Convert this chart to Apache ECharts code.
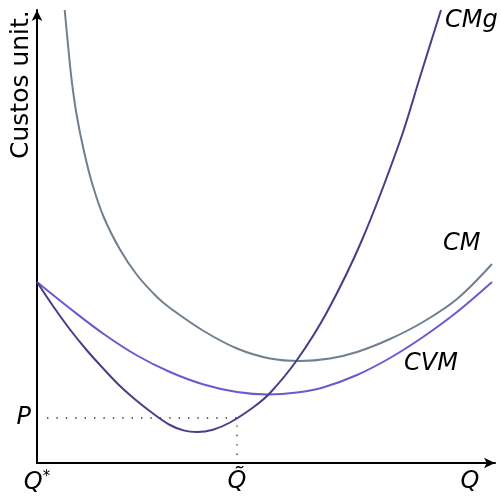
<!DOCTYPE html>
<html><head><meta charset="utf-8">
<script src="https://cdn.jsdelivr.net/npm/echarts@6/dist/echarts.min.js"></script>
<style>html,body{margin:0;padding:0;background:#fff}#c{width:501px;height:498px}</style>
</head><body><div id="c"></div>
<script>
// Read-off values (quantity Q, unit cost) in arbitrary axis units
const cmgQ = [0, 16.7, 33, 50, 66.7, 83, 100, 116.7, 133, 146.5, 160, 176, 193, 216.7, 233, 260, 290, 325, 363, 383, 404];
const cmgC = [181, 156, 133.5, 112.5, 94, 77, 62, 49, 38, 32.6, 31, 33.3, 40.5, 56, 70, 103, 151, 223, 322, 386, 453];
const cmQ  = [27.7, 31.5, 35, 40, 46.7, 55, 66.7, 83, 100, 120, 133, 166.7, 200, 233, 263, 293, 320, 353, 386, 420, 455];
const cmC  = [453, 413, 380, 346, 313, 280, 246, 213.5, 188, 166, 155, 132, 114.5, 104.5, 102, 104.5, 111, 124, 141, 164, 199];
const cvmQ = [0, 33, 66.7, 100, 133, 166.7, 200, 231, 260, 286, 320, 353, 386, 420, 455];
const cvmC = [181, 154.5, 129, 107.5, 91, 78.5, 71, 68.5, 70.5, 75.5, 88, 105, 126, 151, 181];
const priceP = 45;
const qTilde = 200;
const guideStartQ = 10;
const xLabelValues = [0, qTilde, 433];
const xLabelTexts = ['Q*', 'Q\u0303', 'Q'];
const yLabelValues = [priceP];
const yLabelTexts = ['P'];
const seriesNames = ['CMg', 'CM', 'CVM'];
const yAxisTitle = 'Custos unit.';

const zip = (a, b) => a.map((v, i) => [v, b[i]]);
const chart = echarts.init(document.getElementById('c'));
const FS = 24;
const SM = 0.35;
const italicFont = 'italic ' + FS + 'px "DejaVu Sans"';
chart.setOption({
  animation: false,
  grid: {left: 37, right: 6, top: 10, bottom: 35},
  xAxis: {
    type: 'value', min: 0, max: 458,
    axisLine: {lineStyle: {color: '#000', width: 2}, symbol: ['none', 'arrow'], symbolSize: [8, 11]},
    axisTick: {show: false}, splitLine: {show: false},
    axisLabel: {customValues: xLabelValues, margin: 7, fontFamily: 'DejaVu Sans', fontStyle: 'italic', fontSize: FS, color: '#000',
      formatter: v => {
        const i = xLabelValues.findIndex(x => Math.abs(x - v) < 1e-6);
        if (i === 0) return '{m|Q}{s|*}';
        return i >= 0 ? xLabelTexts[i] : '';
      },
      rich: {m: {fontFamily: 'DejaVu Sans', fontStyle: 'italic', fontSize: FS, color: '#000'},
             s: {fontFamily: 'DejaVu Sans', fontSize: 15, color: '#000', verticalAlign: 'top', padding: [0, 0, 10, 0]}}}
  },
  yAxis: {
    type: 'value', min: 0, max: 453,
    axisLine: {lineStyle: {color: '#000', width: 2}, symbol: ['none', 'arrow'], symbolSize: [8, 11]},
    axisTick: {show: false}, splitLine: {show: false},
    axisLabel: {customValues: yLabelValues, margin: 6, fontFamily: 'DejaVu Sans', fontStyle: 'italic', fontSize: FS, color: '#000',
      formatter: v => (Math.abs(v - priceP) < 1e-6 ? yLabelTexts[0] : '')}
  },
  graphic: [
    {type: 'text', x: 9, y: 159, rotation: Math.PI / 2, style: {text: yAxisTitle, font: '25px "DejaVu Sans"', fill: '#000'}},
    {type: 'text', x: 445, y: 9, style: {text: seriesNames[0], font: italicFont, fill: '#000'}},
    {type: 'text', x: 443, y: 232, style: {text: seriesNames[1], font: italicFont, fill: '#000'}},
    {type: 'text', x: 404, y: 352, style: {text: seriesNames[2], font: italicFont, fill: '#000'}}
  ],
  series: [
    {name: 'CM', type: 'line', data: zip(cmQ, cmC), smooth: SM, showSymbol: false, lineStyle: {color: '#708090', width: 2}},
    {name: 'CVM', type: 'line', data: zip(cvmQ, cvmC), smooth: SM, showSymbol: false, lineStyle: {color: '#6a5acd', width: 2}},
    {name: 'CMg', type: 'line', data: zip(cmgQ, cmgC), smooth: SM, showSymbol: false, lineStyle: {color: '#483d8b', width: 2}},
    {name: 'guide', type: 'line', data: [[guideStartQ, priceP], [qTilde, priceP], [qTilde, 0]], showSymbol: false,
      lineStyle: {color: '#333', width: 1.3, type: [1.4, 8]}, z: 1}
  ]
});
</script></body></html>
